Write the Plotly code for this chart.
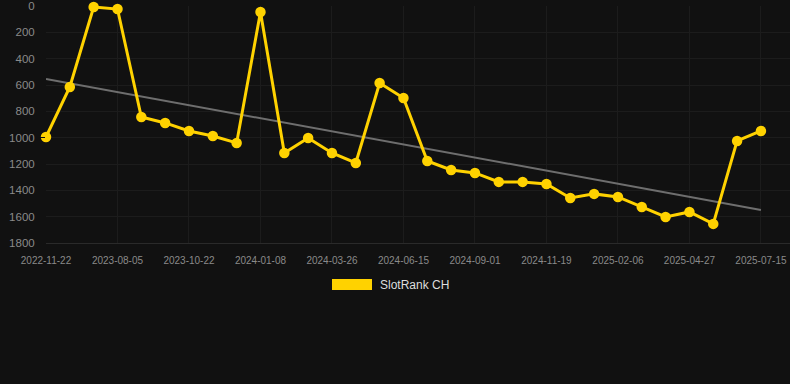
import plotly.graph_objects as go

dates = [
    "2022-11-22", "2023-06-14", "2023-07-10", "2023-08-05", "2023-08-31", "2023-09-26",
    "2023-10-22", "2023-11-17", "2023-12-13", "2024-01-08", "2024-02-03", "2024-02-29",
    "2024-03-26", "2024-04-22", "2024-05-19", "2024-06-15", "2024-07-11", "2024-08-06",
    "2024-09-01", "2024-09-27", "2024-10-23", "2024-11-19", "2024-12-15", "2025-01-10",
    "2025-02-06", "2025-03-04", "2025-03-30", "2025-04-27", "2025-05-23", "2025-06-18",
    "2025-07-15",
]
rank = [
    995, 615, 8, 23, 843, 888, 949, 987, 1040, 46, 1116, 1002, 1116, 1192, 585, 699,
    1177, 1245, 1268, 1336, 1336, 1352, 1458, 1427, 1450, 1526, 1602, 1564, 1655, 1025, 949,
]
trend_dates = [dates[0], dates[-1]]
trend_values = [554, 1549]
tick_dates = dates[::3]
y_ticks = [0, 200, 400, 600, 800, 1000, 1200, 1400, 1600, 1800]
series_name = "SlotRank CH"

BG = "#111111"
GOLD = "#FFD200"
GRID = "#1c1c1c"

fig = go.Figure()
fig.add_trace(go.Scatter(
    x=trend_dates, y=trend_values, mode="lines",
    line=dict(color="#6e6e6e", width=2), showlegend=False, hoverinfo="skip",
    cliponaxis=False,
))
fig.add_trace(go.Scatter(
    x=dates, y=rank, mode="lines+markers", name=series_name,
    line=dict(color=GOLD, width=3), marker=dict(color=GOLD, size=10.5),
    showlegend=False, cliponaxis=False,
))

fig.update_layout(
    width=790, height=384,
    paper_bgcolor=BG, plot_bgcolor=BG,
    margin=dict(l=46, r=0, t=6, b=141),
    font=dict(family="Arial, Liberation Sans, sans-serif", color="#888888"),
    xaxis=dict(
        type="category", categoryorder="array", categoryarray=dates,
        range=[0, 31.22], tickmode="array", tickvals=tick_dates, ticktext=tick_dates,
        tickfont=dict(size=10, color="#8a8a8a"),
        showgrid=True, gridcolor=GRID, gridwidth=1,
        zeroline=False, showline=True, linecolor="#2a2a2a", linewidth=1,
        ticks="outside", ticklen=8, tickcolor=BG,
    ),
    yaxis=dict(
        range=[1800, 0], tickmode="array", tickvals=y_ticks,
        tickfont=dict(size=11.5, color="#8a8a8a"),
        showgrid=True, gridcolor=GRID, gridwidth=1,
        zeroline=False, showline=False,
        ticks="outside", ticklen=8, tickcolor=BG,
    ),
    showlegend=False,
    shapes=[dict(
        type="rect", xref="paper", yref="paper",
        x0=(332 - 46) / 744, x1=(372 - 46) / 744,
        y0=(384 - 141 - 290) / 237, y1=(384 - 141 - 279) / 237,
        fillcolor=GOLD, line=dict(width=0),
    )],
    annotations=[dict(
        text=series_name, xref="paper", yref="paper",
        x=(378 - 46) / 744, y=(384 - 141 - 285) / 237,
        xanchor="left", yanchor="middle", showarrow=False,
        font=dict(size=12, color="#dddddd"),
    )],
)

fig.write_html(
    "out.html",
    config={"displayModeBar": False},
    post_script="document.body.style.margin='0';document.body.style.background='#111111';document.body.style.overflow='hidden';",
)
